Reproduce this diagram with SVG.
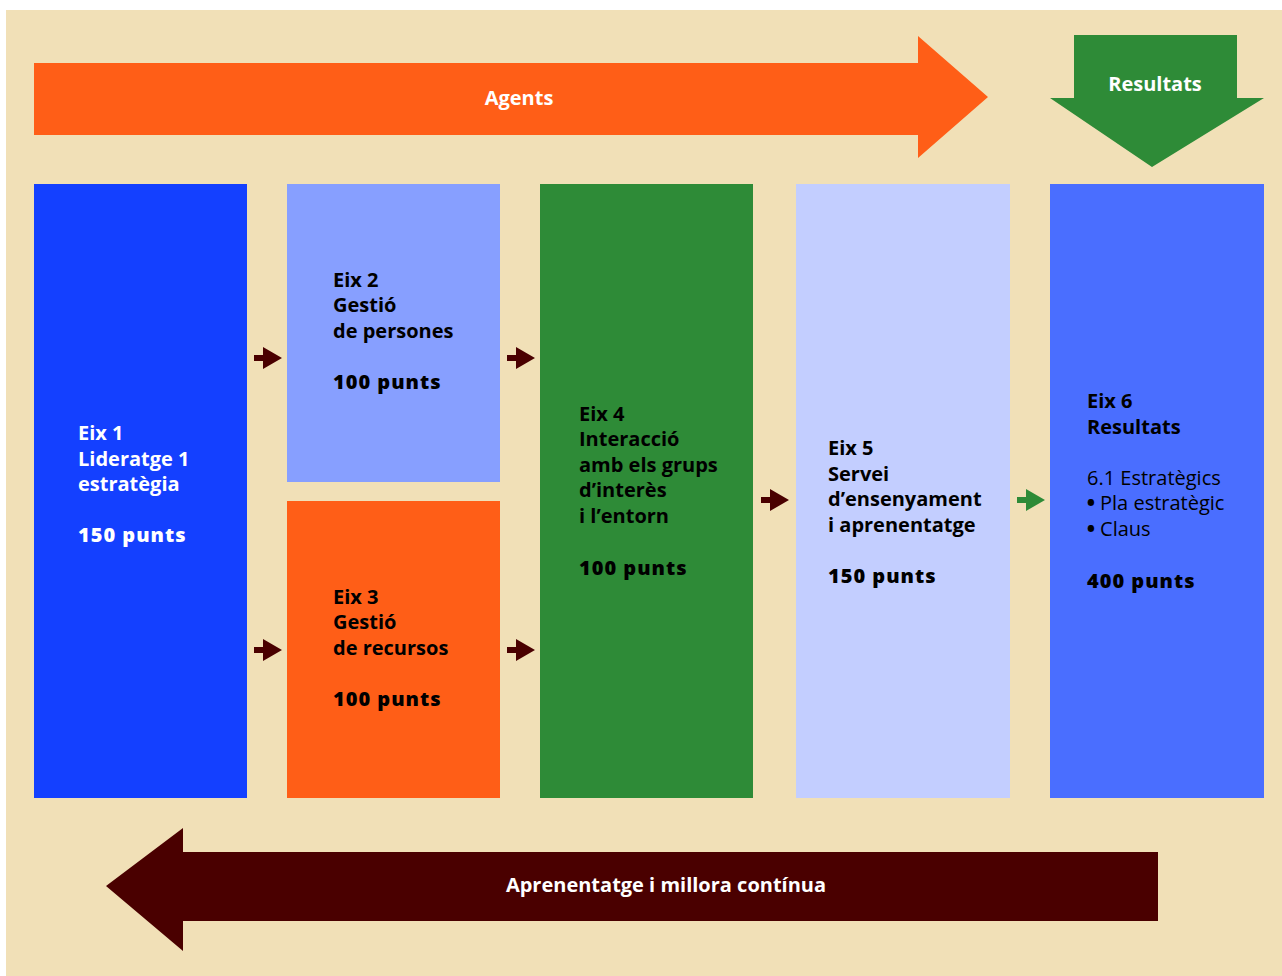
<svg xmlns="http://www.w3.org/2000/svg" width="1282" height="976" viewBox="0 0 1282 976">
  <defs>
    <style>
      .t { font-family: "Open Sans", "Noto Sans", "Liberation Sans", sans-serif; font-size: 20px; font-weight: 700; fill: #000; }
      .reg { font-weight: 400; }
      .pts { font-weight: 800; letter-spacing: 1px; }
      .bul { font-weight: 800; }
      .w { fill: #ffffff; }
      .lbl { font-family: "Open Sans", "Noto Sans", "Liberation Sans", sans-serif; font-size: 20px; font-weight: 700; fill: #ffffff; text-anchor: middle; }
      .dark { fill: #4a0000; }
      .grn { fill: #2e8b37; }
    </style>
    <!-- small flow arrow, tip at origin pointing right -->
    <path id="flow" d="M-28,-3 H-19 V-11 L0,0 L-19,11 V3 H-28 Z"/>
  </defs>

  <!-- backdrop -->
  <rect x="0" y="0" width="1282" height="976" fill="#ffffff"/>
  <rect x="6" y="10" width="1276" height="966" fill="#f1e0b7"/>

  <!-- big banner arrows -->
  <g id="agents">
    <path d="M34,63 H918 V36 L988,97 L918,158 V135 H34 Z" fill="#ff5e17"/>
    <text class="lbl" x="519" y="105">Agents</text>
  </g>
  <g id="resultats-arrow">
    <path d="M1074,35 H1237 V98 H1264 L1152,167 L1050,98 H1074 Z" fill="#2e8b37"/>
    <text class="lbl" x="1155" y="91">Resultats</text>
  </g>
  <g id="aprenentatge">
    <path d="M1158,852 H183 V828 L106,886 L183,951 V921 H1158 Z" fill="#4a0000"/>
    <text class="lbl" x="666" y="892">Aprenentatge i millora contínua</text>
  </g>

  <!-- axis boxes -->
  <g id="eix1">
    <rect x="34" y="184" width="213" height="614" fill="#1440ff"/>
    <text class="t w" x="78" y="440">Eix 1</text>
    <text class="t w" x="78" y="466">Lideratge 1</text>
    <text class="t w" x="78" y="491">estratègia</text>
    <text class="t w pts" x="78" y="542">150 punts</text>
  </g>
  <g id="eix2">
    <rect x="287" y="184" width="213" height="298" fill="#879fff"/>
    <text class="t" x="333" y="287">Eix 2</text>
    <text class="t" x="333" y="312">Gestió</text>
    <text class="t" x="333" y="338">de persones</text>
    <text class="t pts" x="333" y="389">100 punts</text>
  </g>
  <g id="eix3">
    <rect x="287" y="501" width="213" height="297" fill="#ff5e17"/>
    <text class="t" x="333" y="604">Eix 3</text>
    <text class="t" x="333" y="629">Gestió</text>
    <text class="t" x="333" y="655">de recursos</text>
    <text class="t pts" x="333" y="706">100 punts</text>
  </g>
  <g id="eix4">
    <rect x="540" y="184" width="213" height="614" fill="#2e8b37"/>
    <text class="t" x="579" y="421">Eix 4</text>
    <text class="t" x="579" y="446">Interacció</text>
    <text class="t" x="579" y="472">amb els grups</text>
    <text class="t" x="579" y="497">d’interès</text>
    <text class="t" x="579" y="523">i l’entorn</text>
    <text class="t pts" x="579" y="575">100 punts</text>
  </g>
  <g id="eix5">
    <rect x="796" y="184" width="214" height="614" fill="#c3ceff"/>
    <text class="t" x="828" y="455">Eix 5</text>
    <text class="t" x="828" y="481">Servei</text>
    <text class="t" x="828" y="506">d’ensenyament</text>
    <text class="t" x="828" y="532">i aprenentatge</text>
    <text class="t pts" x="828" y="583">150 punts</text>
  </g>
  <g id="eix6">
    <rect x="1050" y="184" width="214" height="614" fill="#4a6eff"/>
    <text class="t" x="1087" y="408">Eix 6</text>
    <text class="t" x="1087" y="434">Resultats</text>
    <text class="t reg" x="1087" y="485">6.1 Estratègics</text>
    <text class="t reg" x="1087" y="510"><tspan class="bul">•</tspan> Pla estratègic</text>
    <text class="t reg" x="1087" y="536"><tspan class="bul">•</tspan> Claus</text>
    <text class="t pts" x="1087" y="588">400 punts</text>
  </g>

  <!-- connectors between axes -->
  <g id="connectors">
    <use href="#flow" class="dark" x="282" y="358"/>
    <use href="#flow" class="dark" x="535" y="358"/>
    <use href="#flow" class="dark" x="282" y="650"/>
    <use href="#flow" class="dark" x="535" y="650"/>
    <use href="#flow" class="dark" x="789" y="500"/>
    <use href="#flow" class="grn" x="1045" y="500"/>
  </g>
</svg>
